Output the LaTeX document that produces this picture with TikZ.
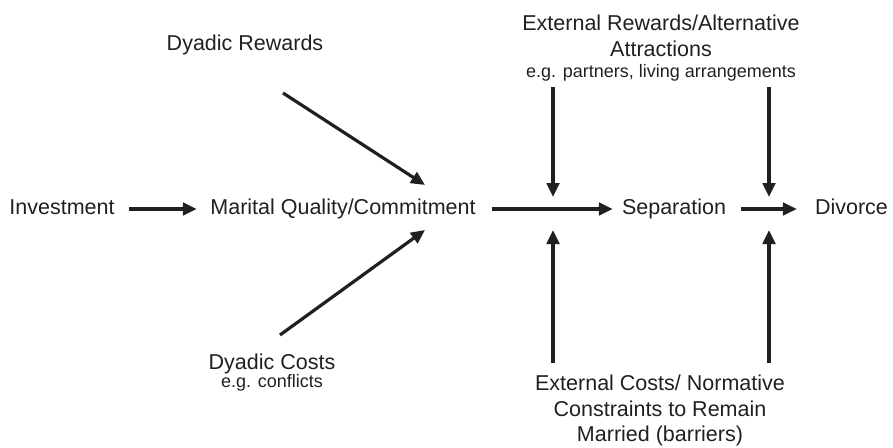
\documentclass[tikz,border=0pt]{standalone}
\usepackage{fontspec}
\setmainfont{Liberation Sans}
\usetikzlibrary{arrows.meta,positioning}
\definecolor{ink}{HTML}{231F20}
\newcommand\labelsize{\fontsize{21.5}{25.5}\selectfont}
\newcommand\notesize{\fontsize{18}{21}\selectfont}
\tikzset
{
    factor/.style = {inner sep=0pt, text=ink, font=\labelsize, text height=15.4pt, text depth=4.5pt},
    factorblock/.style = {inner sep=0pt, text=ink, font=\labelsize, align=center},
    link/.style = {draw=ink, line width=3.2pt, -{Triangle[length=14pt,width=12.5pt]}}
}

\begin{document}
\begin{tikzpicture}[x=1pt, y=-1pt]
	\useasboundingbox (0,0) rectangle (893,447);

	% main chain
	\node[factor] (inv) at (62,209) {Investment};
	\node[factor] (mq)  at (343,209) {Marital Quality/Commitment};
	\node[factor] (sep) at (674,209) {Separation};
	\node[factor] (div) at (851.5,209) {Divorce};

	% influences on marital quality
	\node[factor] (rew) at (245,45) {Dyadic Rewards};
	\node[factorblock, anchor=north] (cost) at (272,354)
		{Dyadic Costs\\[-7.5pt] {\notesize e.g. conflicts}};

	% influences on the transitions
	\node[factorblock, anchor=north] (extrew) at (661,15)
		{External Rewards/Alternative\\ Attractions\\[-4.5pt] {\notesize e.g. partners, living arrangements}};
	\node[factorblock, anchor=north] (extcost) at (660,375)
		{External Costs/ Normative\\ Constraints to Remain\\ Married (barriers)};

	\coordinate (rewfrom) at (283,93);
	\coordinate (rewto)   at (425,185);
	\coordinate (costfrom) at (280,335);
	\coordinate (costto)   at (425,230);
	\coordinate (gateA) at (553,209);
	\coordinate (gateB) at (769,209);

	\draw[link, shorten <=14.4pt, shorten >=13.4pt] (inv) -- (mq);
	\draw[link, shorten <=16.4pt, shorten >=9pt] (mq) -- (sep);
	\draw[link, shorten <=15pt, shorten >=18pt] (sep) -- (div);

	\draw[link] (rewfrom) -- (rewto);
	\draw[link] (costfrom) -- (costto);

	\draw[link, shorten <=6pt, shorten >=12pt] (extrew.south -| gateA) -- (gateA);
	\draw[link, shorten <=6pt, shorten >=12pt] (extrew.south -| gateB) -- (gateB);
	\draw[link, shorten <=12pt, shorten >=21pt] (extcost.north -| gateA) -- (gateA);
	\draw[link, shorten <=12pt, shorten >=21pt] (extcost.north -| gateB) -- (gateB);
\end{tikzpicture}
\end{document}
